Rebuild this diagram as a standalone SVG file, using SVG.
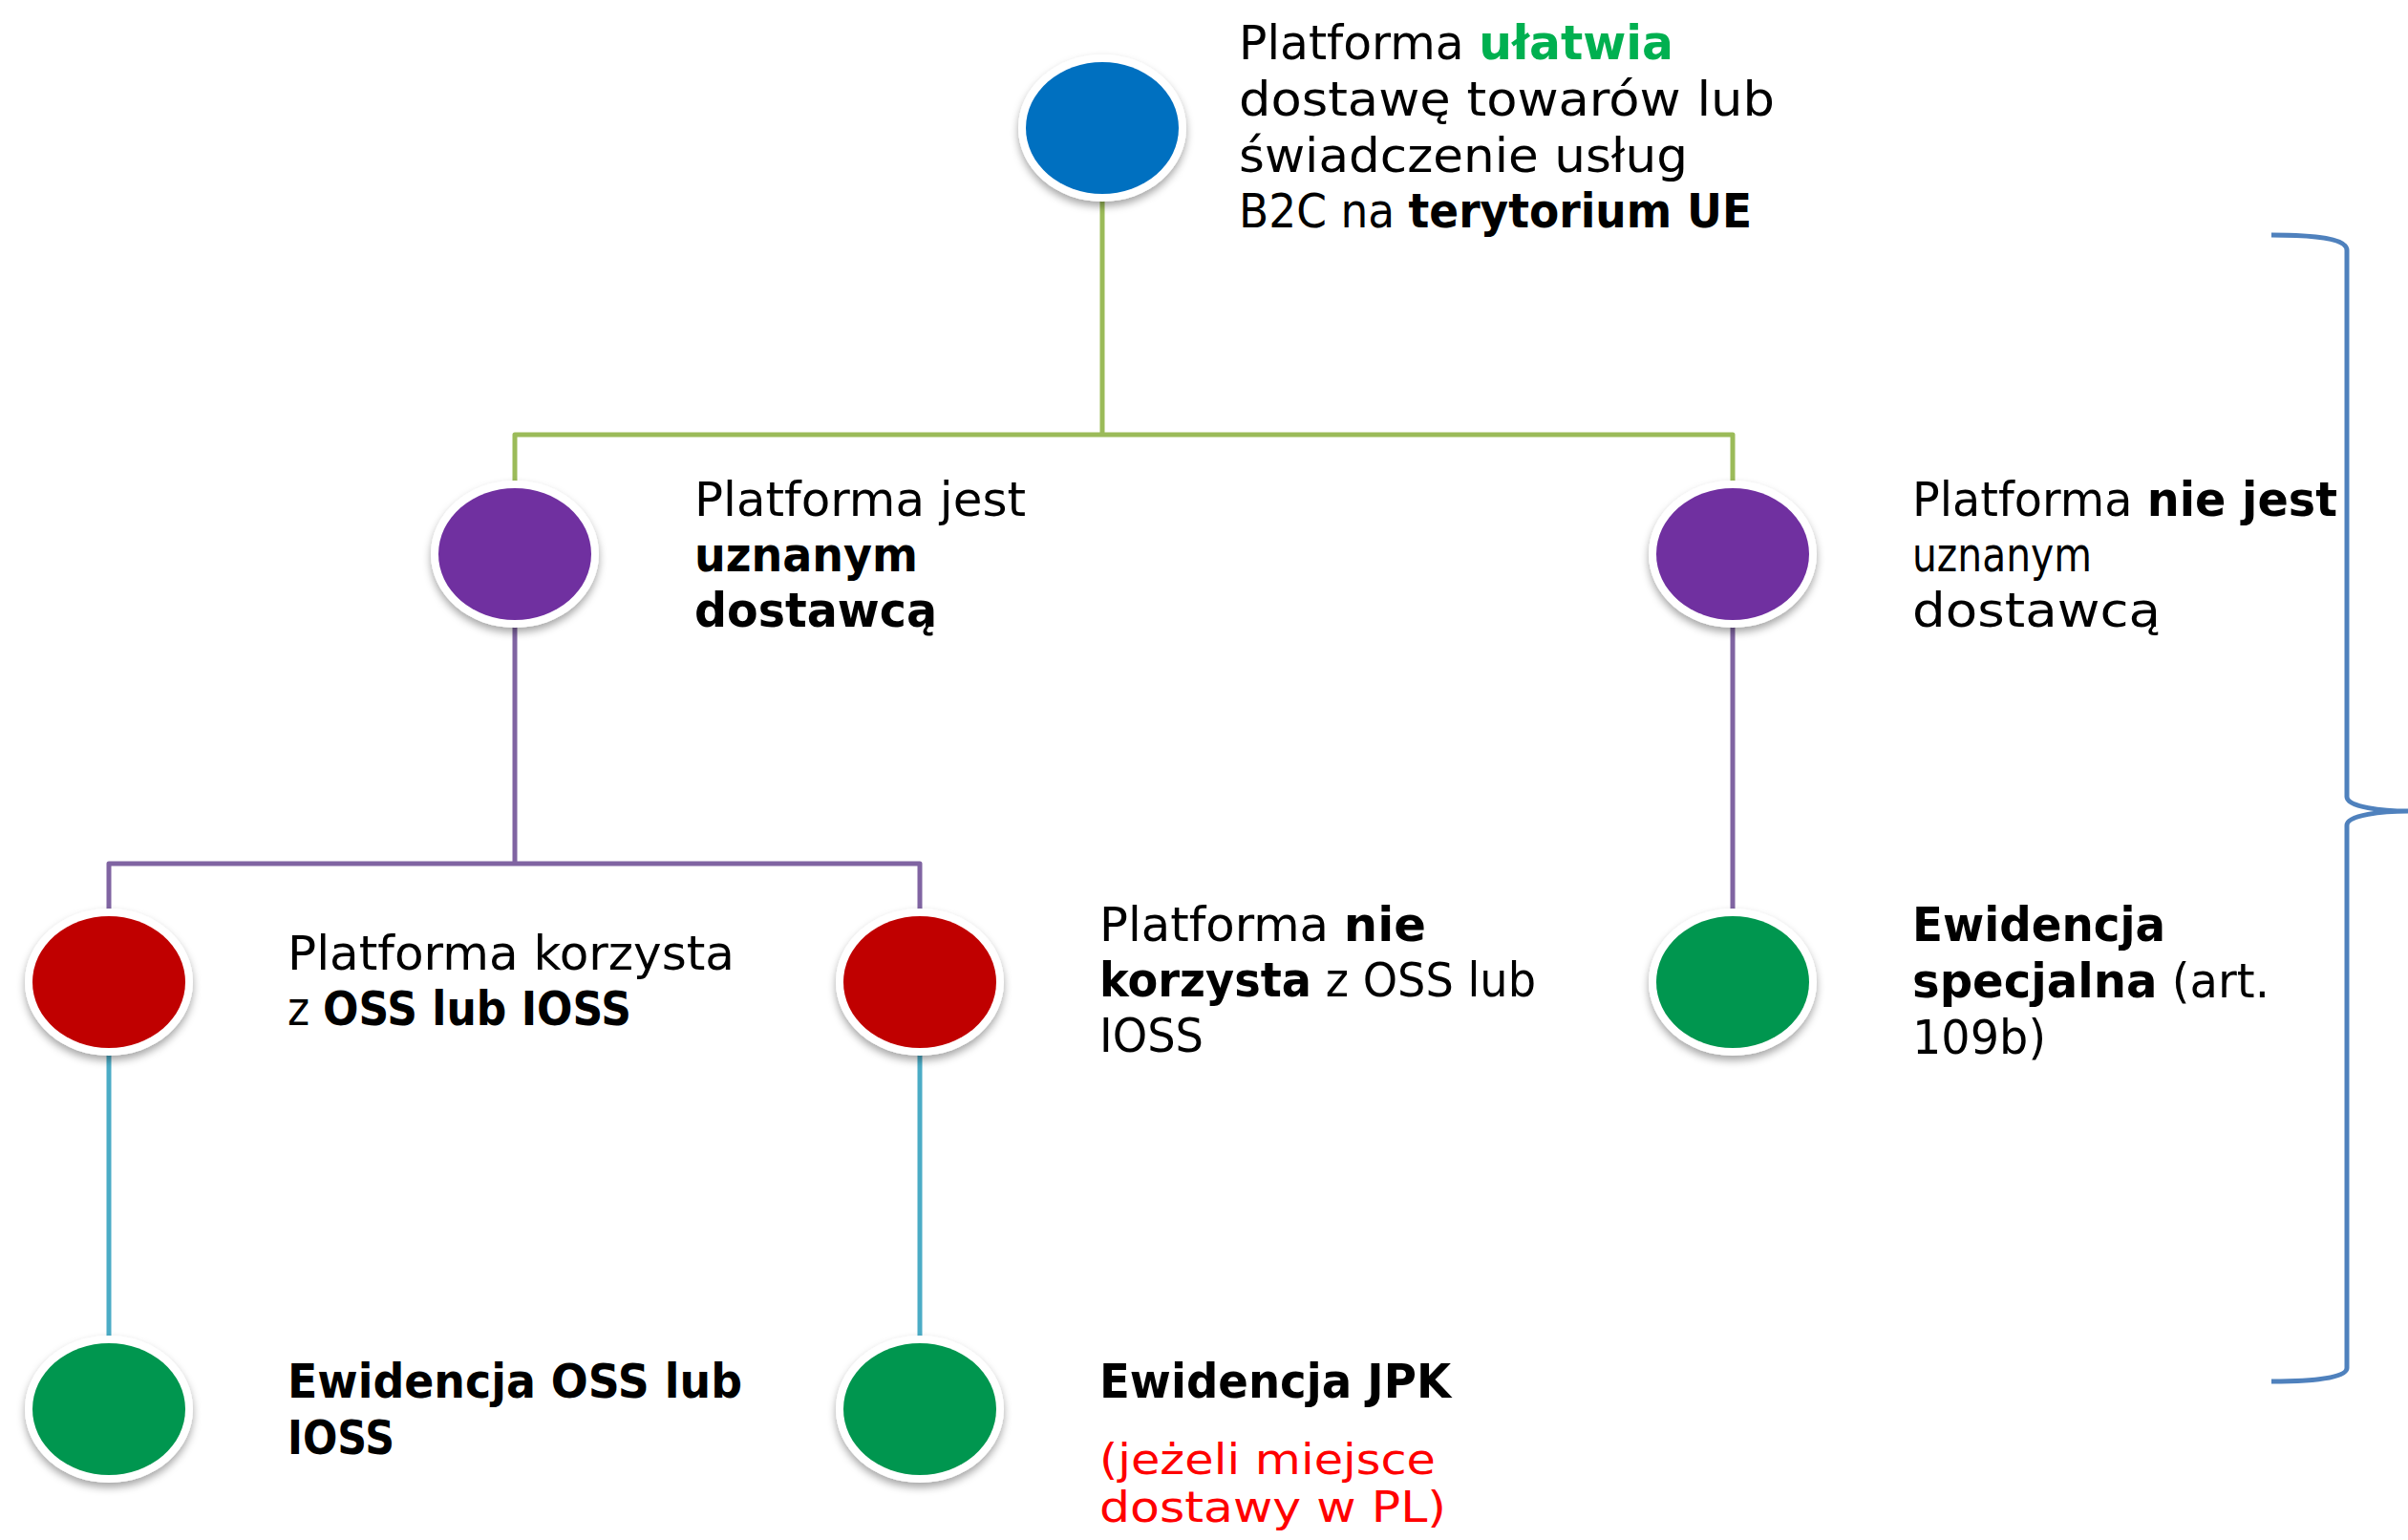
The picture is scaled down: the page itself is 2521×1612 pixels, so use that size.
<svg xmlns="http://www.w3.org/2000/svg" width="2521" height="1612" viewBox="0 0 2521 1612">
  <style>
    text { font-family: "DejaVu Sans", "Liberation Sans", sans-serif; font-size: 50px; fill: #000; }
    .b { font-weight: bold; }
    .g { fill: #00B050; font-weight: bold; }
    .red { fill: #FF0000; font-size: 44px; }
    .ring { fill: #fff; filter: url(#sh); }
    .lg { stroke: #9BBB59; stroke-width: 5; fill: none; stroke-linejoin: round; }
    .lp { stroke: #8064A2; stroke-width: 5; fill: none; stroke-linejoin: round; }
    .lt { stroke: #4BACC6; stroke-width: 5; fill: none; }
    .brace { stroke: #4F81BD; stroke-width: 5; fill: none; }
  </style>
  <defs>
    <filter id="sh" x="-20%" y="-20%" width="140%" height="150%">
      <feDropShadow dx="0" dy="5" stdDeviation="4" flood-color="#000" flood-opacity="0.35"/>
    </filter>
  </defs>
  <rect width="2521" height="1612" fill="#fff"/>

  <g id="connectors">
    <path class="lg" d="M1154,200 V455 H539 V515 M1154,455 H1814 V515"/>
    <path class="lp" d="M539,640 V904 H114 V960 M539,904 H963 V960"/>
    <path class="lp" d="M1814,640 V960"/>
    <path class="lt" d="M114,1090 V1410 M963,1090 V1410"/>
  </g>

  <g id="node-top">
    <ellipse class="ring" cx="1154" cy="134" rx="88" ry="77"/>
    <ellipse cx="1154" cy="134" rx="80" ry="69" fill="#0070C0"/>
    <text x="1297" y="62" textLength="455" lengthAdjust="spacingAndGlyphs">Platforma <tspan class="g">ułatwia</tspan></text>
    <text x="1297" y="121" textLength="561" lengthAdjust="spacingAndGlyphs">dostawę towarów lub</text>
    <text x="1297" y="180" textLength="470" lengthAdjust="spacingAndGlyphs">świadczenie usług</text>
    <text x="1297" y="238" textLength="537" lengthAdjust="spacingAndGlyphs">B2C na <tspan class="b">terytorium UE</tspan></text>
  </g>

  <g id="node-uznany">
    <ellipse class="ring" cx="539" cy="580" rx="88" ry="77"/>
    <ellipse cx="539" cy="580" rx="80" ry="69" fill="#7030A0"/>
    <text x="727" y="540" textLength="347" lengthAdjust="spacingAndGlyphs">Platforma jest</text>
    <text x="727" y="598" class="b" textLength="234" lengthAdjust="spacingAndGlyphs">uznanym</text>
    <text x="727" y="656" class="b" textLength="254" lengthAdjust="spacingAndGlyphs">dostawcą</text>
  </g>

  <g id="node-nieuznany">
    <ellipse class="ring" cx="1814" cy="580" rx="88" ry="77"/>
    <ellipse cx="1814" cy="580" rx="80" ry="69" fill="#7030A0"/>
    <text x="2002" y="540" textLength="445" lengthAdjust="spacingAndGlyphs">Platforma <tspan class="b">nie jest</tspan></text>
    <text x="2002" y="598" textLength="188" lengthAdjust="spacingAndGlyphs">uznanym</text>
    <text x="2002" y="656" textLength="260" lengthAdjust="spacingAndGlyphs">dostawcą</text>
  </g>

  <g id="node-korzysta">
    <ellipse class="ring" cx="114" cy="1028" rx="88" ry="77"/>
    <ellipse cx="114" cy="1028" rx="80" ry="69" fill="#C00000"/>
    <text x="301" y="1015" textLength="468" lengthAdjust="spacingAndGlyphs">Platforma korzysta</text>
    <text x="301" y="1073" textLength="360" lengthAdjust="spacingAndGlyphs">z <tspan class="b">OSS lub IOSS</tspan></text>
  </g>

  <g id="node-niekorzysta">
    <ellipse class="ring" cx="963" cy="1028" rx="88" ry="77"/>
    <ellipse cx="963" cy="1028" rx="80" ry="69" fill="#C00000"/>
    <text x="1151" y="985" textLength="342" lengthAdjust="spacingAndGlyphs">Platforma <tspan class="b">nie</tspan></text>
    <text x="1151" y="1043" textLength="457" lengthAdjust="spacingAndGlyphs"><tspan class="b">korzysta</tspan> z OSS lub</text>
    <text x="1151" y="1101" textLength="109" lengthAdjust="spacingAndGlyphs">IOSS</text>
  </g>

  <g id="node-specjalna">
    <ellipse class="ring" cx="1814" cy="1028" rx="88" ry="77"/>
    <ellipse cx="1814" cy="1028" rx="80" ry="69" fill="#00964F"/>
    <text x="2002" y="985" class="b" textLength="265" lengthAdjust="spacingAndGlyphs">Ewidencja</text>
    <text x="2002" y="1044" textLength="374" lengthAdjust="spacingAndGlyphs"><tspan class="b">specjalna</tspan> (art.</text>
    <text x="2002" y="1103" textLength="140" lengthAdjust="spacingAndGlyphs">109b)</text>
  </g>

  <g id="node-ewidencja-oss">
    <ellipse class="ring" cx="114" cy="1475" rx="88" ry="77"/>
    <ellipse cx="114" cy="1475" rx="80" ry="69" fill="#00964F"/>
    <text x="301" y="1463" class="b" textLength="476" lengthAdjust="spacingAndGlyphs">Ewidencja OSS lub</text>
    <text x="301" y="1522" class="b" textLength="112" lengthAdjust="spacingAndGlyphs">IOSS</text>
  </g>

  <g id="node-ewidencja-jpk">
    <ellipse class="ring" cx="963" cy="1475" rx="88" ry="77"/>
    <ellipse cx="963" cy="1475" rx="80" ry="69" fill="#00964F"/>
    <text x="1151" y="1463" class="b" textLength="368" lengthAdjust="spacingAndGlyphs">Ewidencja JPK</text>
    <text x="1151" y="1543" class="red" textLength="352" lengthAdjust="spacingAndGlyphs">(jeżeli miejsce</text>
    <text x="1151" y="1593" class="red" textLength="363" lengthAdjust="spacingAndGlyphs">dostawy w PL)</text>
  </g>

  <g id="brace">
    <path class="brace" d="M2378,246 C2425,246 2457,250 2457,262 L2457,834 C2457,845 2495,849 2521,849 C2495,849 2457,853 2457,864 L2457,1432 C2457,1442 2425,1446 2378,1446"/>
  </g>
</svg>
